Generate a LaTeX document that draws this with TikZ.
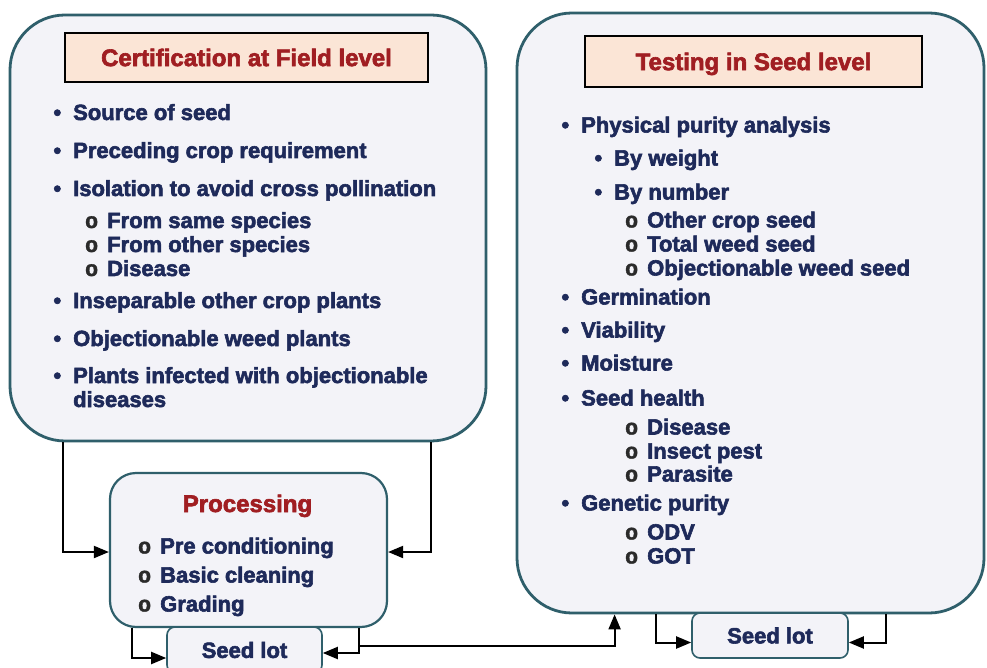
\documentclass[tikz,border=0pt]{standalone}
\usepackage{fontspec}
\setmainfont{Liberation Sans}[BoldFeatures={FakeBold=2.6}]
\newfontfamily\bulofont{Liberation Mono}[BoldFeatures={FakeBold=1.5}]
\usetikzlibrary{arrows.meta}
\definecolor{navy}{HTML}{1E2A5A}
\definecolor{tred}{HTML}{A01E22}
\definecolor{bordc}{HTML}{2F5F6B}
\definecolor{boxfill}{HTML}{F3F3F8}
\definecolor{titlefill}{HTML}{FBE5D6}
\definecolor{subgray}{HTML}{2A2A2A}
\newcommand\itemf{\fontsize{22}{24}\selectfont\bfseries}
\newcommand\titlef{\fontsize{24}{26}\selectfont\bfseries}
\newcommand\mybul{\llap{\textbullet\hspace{12pt}}}
\newcommand\mysub{\llap{{\bulofont\color{subgray}o}\hspace{9pt}}}
\begin{document}
\begin{tikzpicture}[x=1pt,y=-1pt,
  bigbox/.style={draw=bordc, line width=2.8pt, fill=boxfill, rounded corners=55pt, inner sep=0pt},
  midbox/.style={draw=bordc, line width=2.2pt, fill=boxfill, rounded corners=26pt, inner sep=0pt},
  lotbox/.style={draw=bordc, line width=1.6pt, fill=boxfill, rounded corners=8pt, inner sep=0pt,
     font=\itemf, text=navy, text height=15.8pt, text depth=0pt},
  titlebox/.style={draw=black, line width=1.6pt, fill=titlefill, inner sep=0pt,
     font=\titlef, text=tred, text height=17.2pt, text depth=0pt},
  item/.style={anchor=base west, inner sep=0pt, font=\itemf, text=navy},
  ptitle/.style={anchor=base, inner sep=0pt, font=\titlef, text=tred},
  conn/.style={draw=black, line width=2pt, -{Triangle[length=15pt,width=12pt]}}
]
\useasboundingbox (0,0) rectangle (987,668);
\fill[white] (0,0) rectangle (987,668);
\clip (0,0) rectangle (987,668);

% big boxes
\node[bigbox, minimum width=476pt, minimum height=426pt] (L) at (248,228) {};
\node[bigbox, minimum width=467pt, minimum height=600pt] (R) at (750.5,313) {};
\node[titlebox, minimum width=363pt, minimum height=49pt] (LT) at (246.5,57.5) {Certification at Field level};
\node[titlebox, minimum width=337pt, minimum height=51pt] (RT) at (753.5,61.5) {Testing in Seed level};

% processing and seed lots
\node[midbox, minimum width=277pt, minimum height=154pt] (P) at (248.5,550) {};
\node[lotbox, minimum width=155pt, minimum height=46pt] (S1) at (244.5,650) {Seed lot};
\node[lotbox, minimum width=156pt, minimum height=45pt] (S2) at (770,635.5) {Seed lot};

% left items
\node[item] (l1) at (73,120) {\mybul Source of seed};
\node[item] (l2) at (73,158) {\mybul Preceding crop requirement};
\node[item] (l3) at (73,196) {\mybul Isolation to avoid cross pollination};
\node[item] (l4) at (107,228) {\mysub From same species};
\node[item] (l5) at (107,252) {\mysub From other species};
\node[item] (l6) at (107,276) {\mysub Disease};
\node[item] (l7) at (73,308) {\mybul Inseparable other crop plants};
\node[item] (l8) at (73,346) {\mybul Objectionable weed plants};
\node[item] (l9) at (73,383) {\mybul Plants infected with objectionable};
\node[item] (l10) at (73,407) {diseases};

% right items
\node[item] (r1) at (581,132.5) {\mybul Physical purity analysis};
\node[item] (r2) at (614,165.5) {\mybul By weight};
\node[item] (r3) at (614,199.5) {\mybul By number};
\node[item] (r4) at (647,227.5) {\mysub Other crop seed};
\node[item] (r5) at (647,251.5) {\mysub Total weed seed};
\node[item] (r6) at (647,275.5) {\mysub Objectionable weed seed};
\node[item] (r7) at (581,304.5) {\mybul Germination};
\node[item] (r8) at (581,337.5) {\mybul Viability};
\node[item] (r9) at (581,370.5) {\mybul Moisture};
\node[item] (r10) at (581,405.5) {\mybul Seed health};
\node[item] (r11) at (647,434.5) {\mysub Disease};
\node[item] (r12) at (647,458.5) {\mysub Insect pest};
\node[item] (r13) at (647,481.5) {\mysub Parasite};
\node[item] (r14) at (581,510.5) {\mybul Genetic purity};
\node[item] (r15) at (647,539.5) {\mysub ODV};
\node[item] (r16) at (647,563.5) {\mysub GOT};

% processing items
\node[ptitle] (pt) at (247.5,512) {Processing};
\node[item] (p1) at (160,553.5) {\mysub Pre conditioning};
\node[item] (p2) at (160,582.5) {\mysub Basic cleaning};
\node[item] (p3) at (160,611.5) {\mysub Grading};

% connectors
\draw[conn] ([xshift=54pt]L.south west) |- ([yshift=-2pt]P.west);
\draw[conn] ([xshift=-56pt]L.south east) |- ([yshift=-2pt]P.east);
\draw[conn] ([xshift=23pt]P.south west) |- ([yshift=-8pt]S1.west);
\draw[conn] ([xshift=-29pt]P.south east) |- ([yshift=-3pt]S1.east);
\draw[conn] ([xshift=-29pt,yshift=-18pt]P.south east) -| ([xshift=99pt]R.south west);
\draw[conn] ([xshift=140pt]R.south west) |- ([yshift=-7pt]S2.west);
\draw[conn] ([xshift=-99pt]R.south east) |- ([yshift=-7pt]S2.east);
\end{tikzpicture}
\end{document}
